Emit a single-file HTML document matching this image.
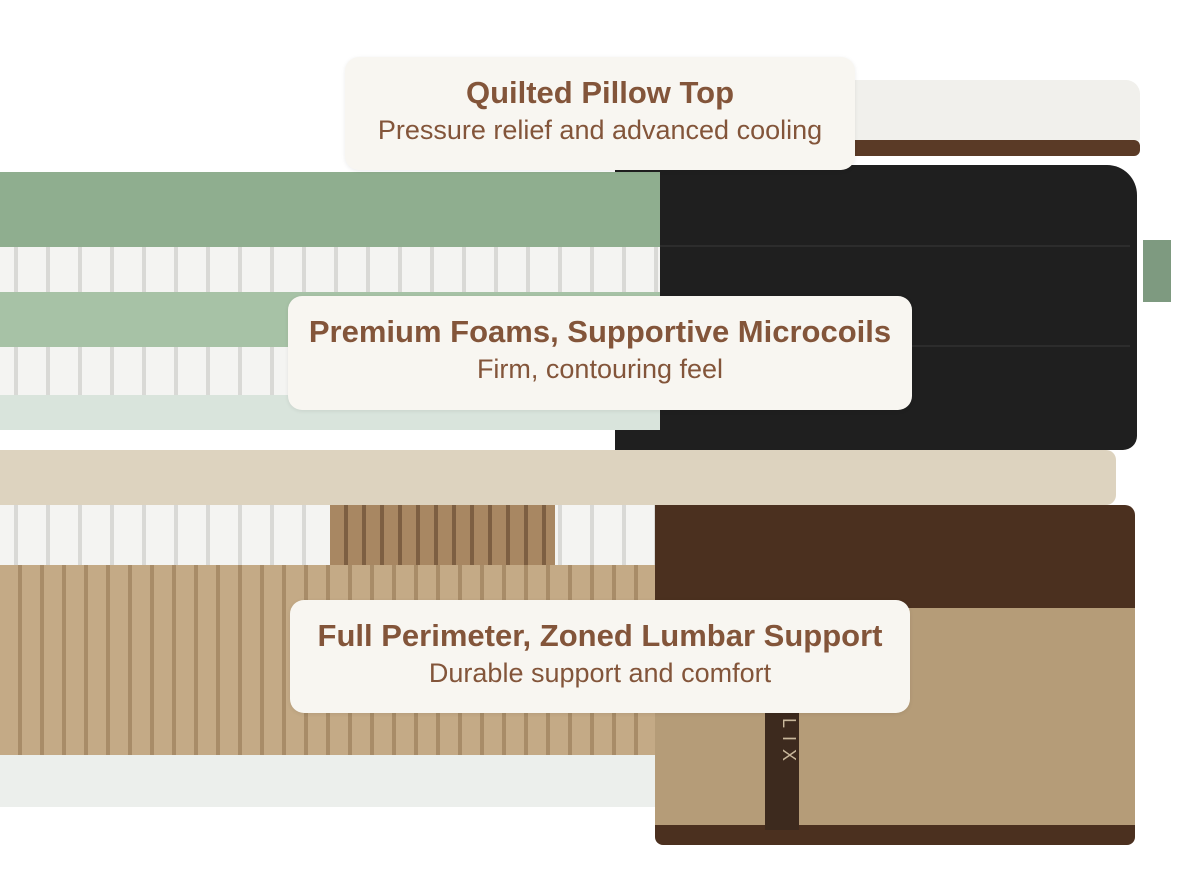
<!DOCTYPE html>
<html><head><style>
body{margin:0;width:1200px;height:886px;background:#fff;position:relative;overflow:hidden;font-family:"Liberation Sans",sans-serif}
div{position:absolute;box-sizing:border-box}
.lbl{background:#f8f6f1;border-radius:14px;text-align:center;color:#83553a;box-shadow:0 1px 4px rgba(0,0,0,.08)}
.t{position:absolute;left:0;right:0;font-weight:bold;font-size:31px;line-height:36px;top:18px}
.s{position:absolute;left:0;right:0;font-size:27px;line-height:32px;top:57px}
.coils{background:repeating-linear-gradient(90deg,#f4f4f2 0 14px,#d9d9d6 14px 18px,#f4f4f2 18px 32px)}
</style></head><body>
<!-- pillow top -->
<div style="left:830px;top:80px;width:310px;height:64px;background:#f1f0ec;border-radius:10px 14px 6px 6px"></div>
<div style="left:835px;top:140px;width:305px;height:16px;background:#5a3a26;border-radius:6px"></div>
<!-- black block -->
<div style="left:615px;top:165px;width:522px;height:285px;background:#1f1f1f;border-radius:0 30px 14px 0"></div>
<div style="left:660px;top:245px;width:470px;height:2px;background:#2c2c2c"></div>
<div style="left:660px;top:345px;width:470px;height:2px;background:#2c2c2c"></div>
<div style="left:1143px;top:240px;width:28px;height:62px;background:#7e9a80"></div>
<!-- left foam layers -->
<div style="left:0;top:172px;width:660px;height:75px;background:#8fae8f"></div>
<div class="coils" style="left:0;top:247px;width:660px;height:45px"></div>
<div style="left:0;top:292px;width:660px;height:55px;background:#a7c2a6"></div>
<div class="coils" style="left:0;top:347px;width:660px;height:48px"></div>
<div style="left:0;top:395px;width:660px;height:35px;background:#d9e4dc"></div>
<!-- beige layer -->
<div style="left:0;top:450px;width:1116px;height:55px;background:#ddd3bf;border-radius:0 10px 10px 0"></div>
<!-- coils row -->
<div class="coils" style="left:0;top:505px;width:660px;height:62px"></div>
<div style="left:330px;top:505px;width:225px;height:62px;background:repeating-linear-gradient(90deg,#a88762 0 14px,#7d5f42 14px 18px)"></div>
<!-- ribbed -->
<div style="left:0;top:565px;width:658px;height:190px;background:repeating-linear-gradient(90deg,#c4aa86 0 18px,#a88c68 18px 22px)"></div>
<div style="left:0;top:755px;width:658px;height:52px;background:#ecefec"></div>
<!-- right side -->
<div style="left:655px;top:505px;width:480px;height:108px;background:#4b301f;border-radius:0 10px 0 0"></div>
<div style="left:655px;top:608px;width:480px;height:225px;background:#b59c78"></div>
<div style="left:655px;top:825px;width:480px;height:20px;background:#4b301f;border-radius:0 0 8px 8px"></div>
<div style="left:765px;top:690px;width:34px;height:140px;background:#3d2a1e;color:#c9b89c;font-size:18px;letter-spacing:8px;writing-mode:vertical-rl;padding:28px 0 0 7px">LIX</div>
<!-- labels -->
<div class="lbl" style="left:345px;top:57px;width:510px;height:113px"><div class="t">Quilted Pillow Top</div><div class="s">Pressure relief and advanced cooling</div></div>
<div class="lbl" style="left:288px;top:296px;width:624px;height:114px"><div class="t">Premium Foams, Supportive Microcoils</div><div class="s">Firm, contouring feel</div></div>
<div class="lbl" style="left:290px;top:600px;width:620px;height:113px"><div class="t">Full Perimeter, Zoned Lumbar Support</div><div class="s">Durable support and comfort</div></div>
</body></html>
